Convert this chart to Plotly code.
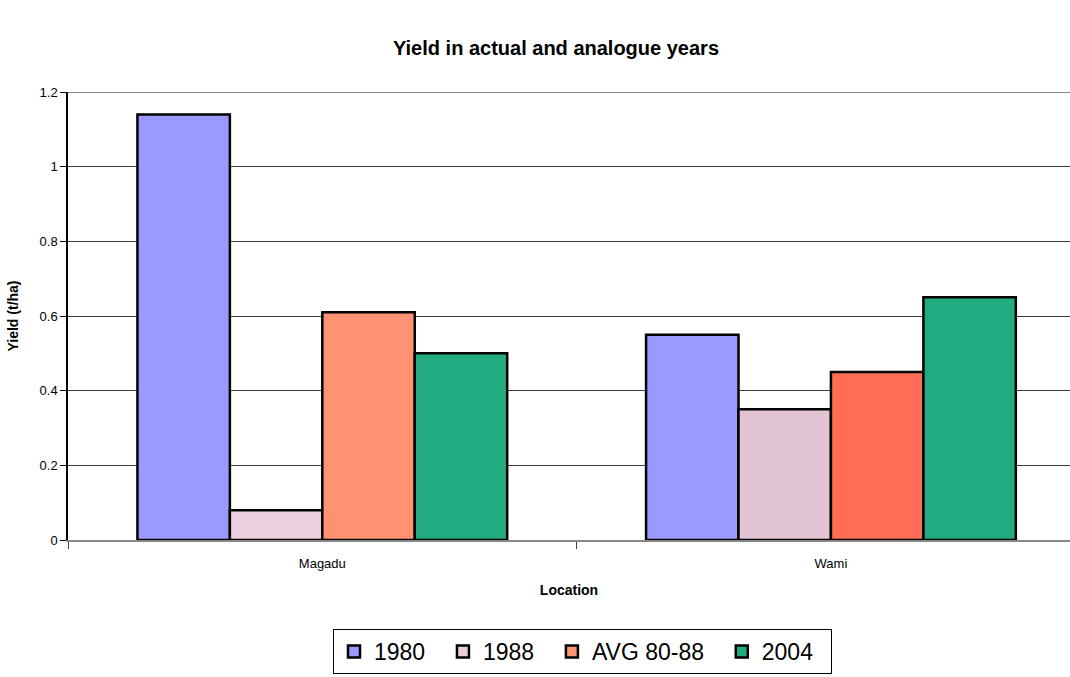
import plotly.graph_objects as go

# Yield (t/ha) per location for each year / average
locations = ["Magadu", "Wami"]
series_names = ["1980", "1988", "AVG 80-88", "2004"]
yield_1980 = [1.14, 0.55]
yield_1988 = [0.08, 0.35]
yield_avg = [0.61, 0.45]
yield_2004 = [0.50, 0.65]

values = [yield_1980, yield_1988, yield_avg, yield_2004]

# Fill colours per location for each series
fills = [
    ["#9999FF", "#9999FF"],
    ["#EAD0DE", "#E2C4D5"],
    ["#FF9272", "#FF6E55"],
    ["#22AA80", "#22AA80"],
]

# Legend labels get a little trailing padding for wider item spacing
pad = "\u00a0\u00a0"

fig = go.Figure()
for name, vals, col in zip(series_names, values, fills):
    fig.add_trace(go.Bar(
        x=locations, y=vals, name=name + pad,
        marker=dict(color=col, line=dict(color="black", width=2.5)),
    ))

fig.update_layout(
    width=1070, height=677,
    margin=dict(l=68, r=0, t=92, b=137, autoexpand=False),
    paper_bgcolor="white", plot_bgcolor="white",
    barmode="group", bargap=0.273, bargroupgap=0,
    font=dict(family="Arial, Liberation Sans, sans-serif", color="black"),
    title=dict(text="<b>Yield in actual and analogue years</b>", x=556 / 1070, xanchor="center",
               y=1 - 48 / 677, yanchor="middle", yref="container",
               font=dict(size=20, color="black")),
    xaxis=dict(
        range=[-0.5, 1.47], showgrid=False, tickson="boundaries",
        ticks="outside", ticklen=7, tickcolor="#444",
        showline=True, linecolor="#888", linewidth=2,
        tickfont=dict(size=13), ticklabelstandoff=10,
        title=dict(text="<b>Location</b>", font=dict(size=14), standoff=16),
    ),
    yaxis=dict(
        range=[0, 1.2], dtick=0.2, tickformat="~g",
        showgrid=True, gridcolor="#3a3a3a", gridwidth=1,
        ticks="outside", ticklen=6, tickcolor="black",
        showline=True, linecolor="black", linewidth=1.5,
        zeroline=False, tickfont=dict(size=13),
        title=dict(text="<b>Yield (t/ha)</b>", font=dict(size=14), standoff=18),
    ),
    legend=dict(
        orientation="h", x=(333 - 68) / 1002, xanchor="left",
        y=(540 - 629) / 448, yanchor="top",
        bordercolor="black", borderwidth=1, bgcolor="white",
        font=dict(size=23), traceorder="normal",
    ),
    showlegend=True,
)

# Top frame line at the 1.2 gridline in grey
fig.add_shape(type="line", xref="paper", yref="y", x0=0, x1=1, y0=1.2, y1=1.2,
              line=dict(color="#888", width=2))

fig.write_html("out.html")
